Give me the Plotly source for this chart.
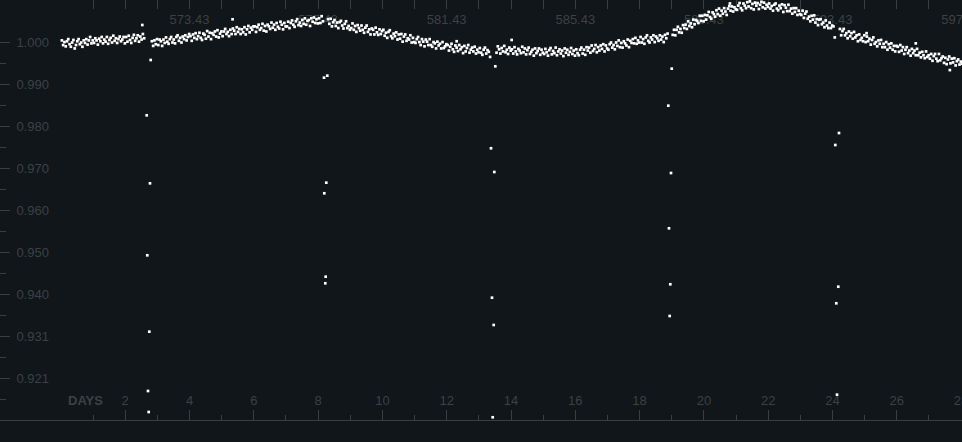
import numpy as np
import plotly.graph_objects as go

# ---- data -------------------------------------------------------------
# regular-cadence light curve: time grid start / cadence (days)
t_start = 0.03
cadence = 0.04
# flux deviation from 1.0 in units of 1e-4, 25 samples per day (None = gap / in transit)
N = None
flux_dev_rows = [
    [3, -8, -1, -11, 1, 6, -6, -12, -2, 4, -16, -8, 1, 6, -6, -2, -12, 3, -3, 6, -7, 3, 11, -4, 3],
    [-3, 8, 3, -7, 7, 1, 11, -4, 5, 0, 11, -5, 4, 9, -2, 14, 2, 8, -3, 6, 12, 1, 5, 11, -4],
    [11, 0, 14, 4, -3, 9, 16, 2, 8, 15, 0, 12, 5, 18, 8, N, N, N, N, N, 1, -10, 3, -6, 6],
    [-8, 5, 1, -10, 5, -3, 10, 0, -5, 6, 11, -2, 5, -4, 11, 15, 2, 9, -2, 12, 6, 15, 3, 11, 18],
    [13, 2, 17, 9, 20, 6, 13, 21, 9, 4, 19, 16, 7, 25, 12, 21, 6, 20, 16, 24, 12, 27, 10, 19, 24],
    [13, 24, 30, 18, 23, 13, 28, 18, 31, 26, 18, 34, 23, 30, 18, 29, 22, 34, 17, 29, 37, 22, 33, 28, 36],
    [36, 23, 34, 40, 28, 32, 42, 26, 37, 24, 40, 36, 30, 45, 33, 40, 28, 44, 35, 31, 47, 40, 29, 44, 36],
    [36, 47, 32, 44, 50, 40, 35, 48, 53, 39, 45, 37, 51, 42, 55, 40, 49, 51, 37, 55, 47, 57, 44, 53, 43],
    [55, 44, 60, 48, N, N, N, 53, 42, 54, 36, 46, 51, 37, 45, 32, 46, 49, 38, 31, 42, 48, 32, 37, 28],
    [32, 43, 28, 37, 23, 39, 32, 26, 38, 28, 21, 33, 38, 23, 29, 17, 31, 28, 17, 33, 22, 16, 29, 18, 25],
    [28, 14, 21, 9, 23, 27, 13, 8, 19, 13, 22, 5, 17, 7, 18, 0, 12, 17, 2, 8, 5, 15, -2, 9, -1],
    [-3, 6, 11, -1, -8, 6, 0, -11, 5, 0, -8, 6, -8, -12, -1, -4, -16, 0, -9, -5, -16, -1, -15, -11, -6],
    [-8, -21, -12, -5, -18, -24, -9, -14, -22, -8, -18, -13, -27, -10, -23, -15, -8, -26, -19, -14, -23, -12, -28, -19, -25],
    [-15, -26, -31, -19, -14, -28, -20, -24, -36, N, N, N, N, -26, -11, -18, -28, -15, -23, -10, -25, -19, -29, -14, -21],
    [-18, -28, -13, -23, -30, -17, -21, -27, -12, -25, -16, -30, -20, -14, -29, -24, -19, -33, -16, -27, -22, -16, -31, -19, -26],
    [-29, -17, -25, -33, -20, -15, -30, -22, -27, -14, -32, -23, -18, -28, -21, -34, -16, -26, -19, -31, -24, -15, -29, -21, -33],
    [-18, -27, -32, -19, -14, -28, -19, -31, -13, -21, -14, -26, -9, -22, -17, -8, -25, -13, -21, -9, -17, -6, -23, -9, -16],
    [-19, -6, -2, -14, -8, -18, -2, -10, 3, -13, -3, -14, 1, -4, -9, 5, -13, 2, -3, 6, -4, 9, -5, 3, -2],
    [11, -2, 6, -5, 10, 15, 2, -2, 10, 5, 15, -1, 12, 8, 2, 15, 5, 12, -1, 16, 8, 19, N, N, N],
    [16, 28, 15, 28, 35, 22, 30, 21, 39, 32, 40, 30, 48, 37, 43, 34, 52, 41, 51, 49, 44, 61, 49, 61, 48],
    [63, 52, 62, 70, 58, 54, 69, 65, 59, 74, 65, 78, 61, 73, 66, 79, 71, 63, 78, 84, 73, 83, 71, 81, 76],
    [75, 85, 91, 79, 74, 90, 85, 79, 93, 83, 95, 79, 89, 76, 92, 85, 91, 77, 87, 94, 81, 92, 78, 87, 82],
    [90, 78, 84, 73, 87, 90, 78, 74, 85, 79, 88, 70, 86, 80, 72, 87, 72, 78, 66, 79, 70, 79, 63, 73, 65],
    [63, 73, 56, 66, 71, 54, 59, 48, 61, 52, 62, 45, 53, 39, 52, 53, 41, 45, 34, 50, 38, 32, 45, 32, 38],
    [36, 10, N, N, N, 30, 15, 25, 30, 15, 20, 8, 24, 13, 20, 7, 23, 10, 15, 1, 17, 4, 9, 1, 15],
    [-1, 12, 1, 7, -7, 4, 10, -5, -1, -11, 3, -5, 4, -13, -5, -13, -1, -19, -6, -14, -4, -19, -10, -23, -10],
    [-12, -24, -8, -21, -13, -29, -19, -13, -27, -21, -33, -17, -27, -21, -32, -17, -32, -26, -37, -24, -32, -39, -23, -36, -32],
    [-40, -29, -45, -34, -29, -40, -46, -29, -44, -39, -35, -50, -38, -53, -42, -35, -51, -40, -49, -39, -56, -46, -42, -54, -47],
    [-52],
]

# in-transit points and outliers (day, flux)
extra_days = [2.532, 2.669, 2.687, 2.709, 2.731, 2.750, 2.771, 2.793,
              5.34,
              8.184, 8.193, 8.224, 8.236, 8.255, 8.286,
              12.31,
              13.378, 13.409, 13.431, 13.462, 13.481, 13.512,
              14.02,
              18.893, 18.914, 18.936, 18.955, 18.977, 18.999,
              20.81,
              24.087, 24.118, 24.140, 24.180, 24.202,
              25.06, 26.59, 27.65]
extra_flux = [1.00393, 0.98264, 0.94964, 0.91766, 0.91271, 0.93164, 0.96661, 0.99568,
              1.00527,
              0.99151, 0.96426, 0.94305, 0.94460, 0.96676, 0.99198,
              1.00010,
              0.97487, 0.93965, 0.91146, 0.93322, 0.96928, 0.99419,
              1.00040,
              0.98491, 0.95601, 0.93534, 0.94281, 0.96904, 0.99363,
              1.00900,
              0.97564, 0.93833, 0.91679, 0.94224, 0.97847,
              1.00200, 0.99960, 0.99330]

# axis ticks
day_ticks = [2, 4, 6, 8, 10, 12, 14, 16, 18, 20, 22, 24, 26, 28]
day_minor = [1, 3, 5, 7, 9, 11, 13, 15, 17, 19, 21, 23, 25, 27]
bjd_offset = 569.43
bjd_ticks = [573.43, 577.43, 581.43, 585.43, 589.43, 593.43, 597.43]
bjd_minor = [570.43, 571.43, 572.43, 574.43, 575.43, 576.43, 578.43, 579.43, 580.43,
             582.43, 583.43, 584.43, 586.43, 587.43, 588.43, 590.43, 591.43, 592.43,
             594.43, 595.43, 596.43]
flux_ticks = [0.99985, 0.98995, 0.98005, 0.97015, 0.96025, 0.95035, 0.94045, 0.93055, 0.92065]
flux_labels = ["1.000", "0.990", "0.980", "0.970", "0.960", "0.950", "0.940", "0.931", "0.921"]
flux_minor = [0.9949, 0.9850, 0.9751, 0.9652, 0.9553, 0.9454, 0.9355, 0.9256, 0.9157]

x_range = [-1.894, 28.028]
y_range = [0.91082, 1.00982]

# ---- build ------------------------------------------------------------
dev = [v for row in flux_dev_rows for v in row]
band_t = t_start + cadence * np.arange(len(dev))
band_f = np.array([np.nan if v is None else 1.0 + v * 1e-4 for v in dev])

BG = "#10161a"
AX = "#3a3e41"
TXT = "#3d4144"
FONT = "Liberation Sans, Arial, sans-serif"

marker = dict(color="white", size=2.7, symbol="square", line=dict(width=0))

fig = go.Figure()
fig.add_trace(go.Scatter(x=band_t, y=band_f, mode="markers", marker=marker,
                         hoverinfo="skip", showlegend=False))
fig.add_trace(go.Scatter(x=extra_days, y=extra_flux, mode="markers", marker=marker,
                         hoverinfo="skip", showlegend=False))
# invisible trace to activate the top (BJD) axis
fig.add_trace(go.Scatter(x=[x_range[0] + bjd_offset, x_range[1] + bjd_offset],
                         y=[y_range[0], y_range[0]], xaxis="x2", mode="markers",
                         marker=dict(opacity=0), hoverinfo="skip", showlegend=False))

fig.update_layout(
    width=962, height=442,
    margin=dict(l=0, r=0, t=0, b=22, autoexpand=False),
    paper_bgcolor=BG, plot_bgcolor=BG,
    font=dict(family=FONT, size=13, color=TXT),
    xaxis=dict(range=x_range, showgrid=False, zeroline=False, automargin=False,
               showline=True, linecolor=AX, linewidth=1,
               ticks="inside", ticklen=10, tickcolor=AX, tickwidth=1,
               tickvals=day_ticks, ticktext=[str(d) for d in day_ticks],
               ticklabelposition="inside", ticklabelstandoff=2,
               ticklabeloverflow="allow",
               tickfont=dict(size=13, color=TXT, family=FONT),
               minor=dict(tickvals=day_minor, ticks="inside", ticklen=5, tickcolor=AX, showgrid=False),
               layer="below traces"),
    xaxis2=dict(range=[x_range[0] + bjd_offset, x_range[1] + bjd_offset],
                overlaying="x", side="top", anchor="y", automargin=False,
                showgrid=False, zeroline=False, showline=False,
                ticks="inside", ticklen=9, tickcolor=AX, tickwidth=1,
                tickvals=bjd_ticks, ticktext=[f"{v:.2f}" for v in bjd_ticks],
                ticklabelposition="inside", ticklabelstandoff=6,
                ticklabeloverflow="allow",
                tickfont=dict(size=13, color=TXT, family=FONT),
                minor=dict(tickvals=bjd_minor, ticks="inside", ticklen=9, tickcolor=AX, showgrid=False),
                layer="below traces"),
    yaxis=dict(range=y_range, showgrid=False, zeroline=False, automargin=False,
               showline=True, linecolor=AX, linewidth=1,
               ticks="inside", ticklen=10, tickcolor=AX, tickwidth=1,
               tickvals=flux_ticks, ticktext=flux_labels,
               ticklabelposition="inside", ticklabelstandoff=6,
               tickfont=dict(size=13, color=TXT, family=FONT),
               minor=dict(tickvals=flux_minor, ticks="inside", ticklen=6, tickcolor=AX, showgrid=False),
               layer="below traces"),
    annotations=[dict(text="<b>DAYS</b>", x=0.78, xref="x", y=20 / 420, yref="paper",
                      xanchor="center", yanchor="middle", showarrow=False,
                      font=dict(size=13, color=TXT, family=FONT))],
)

fig.write_html("out.html")
